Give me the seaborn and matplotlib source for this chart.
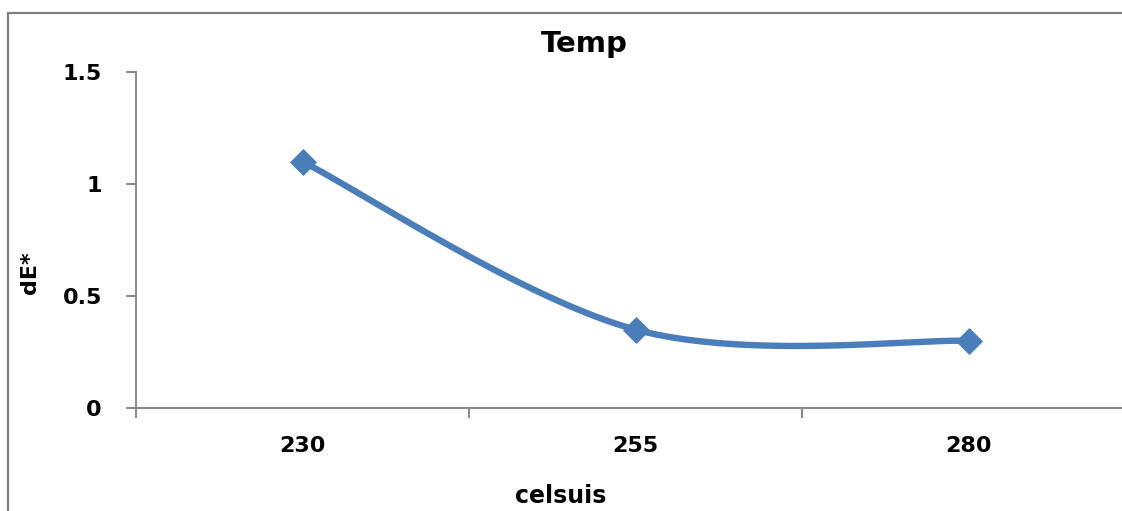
import numpy as np
import pandas as pd
import matplotlib
matplotlib.use("Agg")
import matplotlib.pyplot as plt
import seaborn as sns
from matplotlib.patches import Rectangle

# ---- data ----
categories = ["230", "255", "280"]
dE_values = [1.1, 0.35, 0.3]
y_ticks = [0, 0.5, 1, 1.5]
y_tick_labels = ["0", "0.5", "1", "1.5"]
title_text = "Temp"
x_label = "celsuis"
y_label = "dE*"

sns.set_theme(style="white")
plt.rcParams["font.family"] = ["DejaVu Sans"]
plt.rcParams["text.color"] = "black"
plt.rcParams["xtick.labelcolor"] = "black"
plt.rcParams["ytick.labelcolor"] = "black"

LINE_COLOR = "#4A7EBB"
AXIS_COLOR = "#8C8C8C"

W, H = 1122, 511
fig = plt.figure(figsize=(W / 100, H / 100), dpi=100)
ax = fig.add_axes([136 / W, (H - 408) / H, 999 / W, 336 / H])

xi = np.arange(len(categories))
df = pd.DataFrame({"x": xi, "dE": dE_values})


def excel_smooth(xs, ys, n=80):
    """Catmull-Rom style Bezier smoothing (as Excel's 'smoothed line')."""
    P = np.column_stack([xs, ys]).astype(float)
    out = []
    for i in range(len(P) - 1):
        p0 = P[max(i - 1, 0)]
        p1 = P[i]
        p2 = P[i + 1]
        p3 = P[min(i + 2, len(P) - 1)]
        c1 = p1 + (p2 - p0) / 6.0
        c2 = p2 - (p3 - p1) / 6.0
        t = np.linspace(0, 1, n)[:, None]
        seg = (1 - t) ** 3 * p1 + 3 * (1 - t) ** 2 * t * c1 + 3 * (1 - t) * t ** 2 * c2 + t ** 3 * p2
        out.append(seg if i == 0 else seg[1:])
    return np.vstack(out)


curve = excel_smooth(df["x"], df["dE"])
curve_df = pd.DataFrame({"x": curve[:, 0], "dE": curve[:, 1]})

sns.lineplot(data=curve_df, x="x", y="dE", sort=False, color=LINE_COLOR,
             linewidth=4.6, ax=ax, zorder=3, solid_capstyle="round")
sns.scatterplot(data=df, x="x", y="dE", marker="D", s=165, color=LINE_COLOR,
                edgecolor=LINE_COLOR, linewidth=1, ax=ax, zorder=4, clip_on=False)

ax.set_xlim(-0.5, len(categories) - 0.5)
ax.set_ylim(0, 1.5)

# category axis: major ticks at boundaries, labels at centres (minor)
ax.set_xticks(np.arange(len(categories) + 1) - 0.5)
ax.set_xticklabels([])
ax.set_xticks(xi, minor=True)
ax.set_xticklabels(categories, minor=True, fontsize=16, fontweight="bold", color="black")
ax.tick_params(axis="x", which="major", direction="out", length=7.5, width=1.5,
               color=AXIS_COLOR, bottom=True)
ax.tick_params(axis="x", which="minor", length=0, pad=20.5, bottom=True)

ax.set_yticks(y_ticks)
ax.set_yticklabels(y_tick_labels, fontsize=16, fontweight="bold", color="black")
ax.tick_params(axis="y", direction="out", length=7.5, width=1.5, color=AXIS_COLOR,
               pad=17, left=True)

for side in ["top", "right"]:
    ax.spines[side].set_visible(False)
for side in ["left", "bottom"]:
    ax.spines[side].set_color(AXIS_COLOR)
    ax.spines[side].set_linewidth(1.5)

ax.set_xlabel("")
ax.set_ylabel("")

fig.text(584 / W, 1 - 52 / H, title_text, ha="center", va="baseline",
         fontsize=21, fontweight="bold", color="black")
fig.text(561 / W, 1 - 503 / H, x_label, ha="center", va="baseline",
         fontsize=17, fontweight="bold", color="black")
fig.text(30 / W, 1 - 273 / H, y_label, ha="center", va="center", rotation=90,
         fontsize=16, fontweight="bold", color="black")

# chart border (extends beyond the cropped image on right and bottom)
top = 1 - 13 / H
fig.patches.append(Rectangle((8 / W, -0.2), 1.3, top + 0.2, transform=fig.transFigure,
                             fill=False, edgecolor="#808080", linewidth=1.6))

fig.savefig("out.png", dpi=100, facecolor="white")
